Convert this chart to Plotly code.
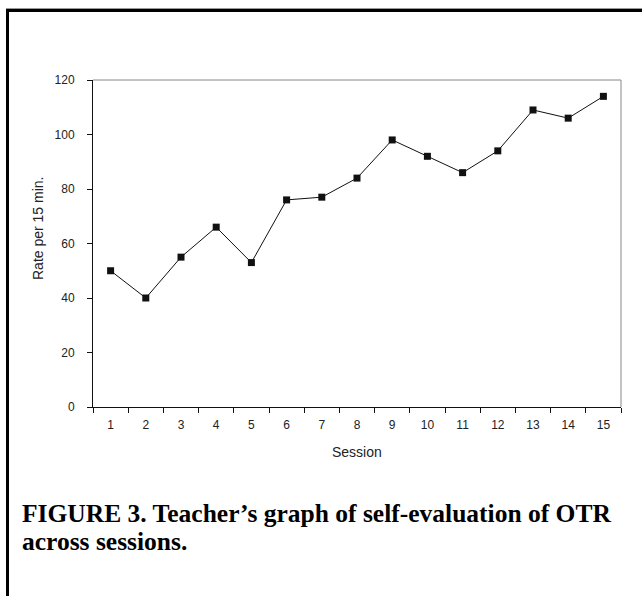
import plotly.graph_objects as go

sessions = list(range(1, 16))
rates = [50, 40, 55, 66, 53, 76, 77, 84, 98, 92, 86, 94, 109, 106, 114]
y_ticks = [0, 20, 40, 60, 80, 100, 120]

W, H = 642, 596
L, R, T, B = 93, 621, 80, 407
pw, ph = R - L, B - T

def px(x):
    return (x - L) / pw

def py(y):
    return (B - y) / ph

fig = go.Figure()
fig.add_trace(go.Scatter(
    x=sessions, y=rates, mode="lines+markers",
    line=dict(color="#111", width=1),
    marker=dict(symbol="square", size=7, color="#111"),
    showlegend=False, cliponaxis=False, hoverinfo="skip",
))

tick_font = dict(family="Liberation Sans, Arial, sans-serif", size=12, color="#222")
title_font = dict(family="Liberation Sans, Arial, sans-serif", size=14, color="#222")

fig.update_layout(
    width=W, height=H,
    margin=dict(l=L, r=W - R, t=T, b=H - B),
    paper_bgcolor="white", plot_bgcolor="white",
    font=tick_font,
    xaxis=dict(
        range=[0.5, 15.5], tickvals=sessions, ticktext=[str(s) for s in sessions],
        ticks="outside", ticklen=7, tickcolor="rgba(0,0,0,0)",
        minor=dict(tick0=0.5, dtick=1, ticks="outside", ticklen=5, tickcolor="#111", tickwidth=1),
        showline=True, linecolor="#111", linewidth=1, showgrid=False, zeroline=False,
        tickfont=tick_font, fixedrange=True,
    ),
    yaxis=dict(
        range=[0, 120], tickvals=y_ticks,
        ticks="outside", ticklen=5, tickcolor="#111", ticklabelstandoff=10,
        showline=True, linecolor="#111", linewidth=1, showgrid=False, zeroline=False,
        tickfont=tick_font, fixedrange=True,
    ),
)

shapes = [
    dict(type="line", xref="paper", yref="paper", x0=0, x1=1, y0=1, y1=1,
         line=dict(color="#888", width=1)),
    dict(type="line", xref="paper", yref="paper", x0=1, x1=1, y0=0, y1=1,
         line=dict(color="#888", width=1)),
    dict(type="line", xref="paper", yref="paper", x0=px(7.5), x1=px(7.5), y0=py(9), y1=py(700),
         line=dict(color="black", width=3)),
    dict(type="line", xref="paper", yref="paper", x0=px(6), x1=px(700), y0=py(10.5), y1=py(10.5),
         line=dict(color="black", width=3)),
    dict(type="line", xref="paper", yref="paper", x0=px(6), x1=px(700), y0=py(8.5), y1=py(8.5),
         line=dict(color="#999", width=1)),
]
fig.update_layout(shapes=shapes)

fig.add_annotation(text="Rate per 15 min.", textangle=-90,
                   xref="paper", yref="paper", x=px(38), y=py(228), xanchor="center", yanchor="middle",
                   showarrow=False, font=title_font)
fig.add_annotation(text="Session",
                   xref="paper", yref="paper", x=0.5, y=py(452), xanchor="center", yanchor="middle",
                   showarrow=False, font=title_font)

cap_font = dict(family="Liberation Serif, Times New Roman, serif", size=25.5, color="black")
fig.add_annotation(text="<b>FIGURE 3. Teacher’s graph of self-evaluation of OTR</b>",
                   xref="paper", yref="paper", x=px(20), y=py(513), xanchor="left", yanchor="middle",
                   showarrow=False, font=cap_font)
fig.add_annotation(text="<b>across sessions.</b>",
                   xref="paper", yref="paper", x=px(20), y=py(541), xanchor="left", yanchor="middle",
                   showarrow=False, font=cap_font)

fig.write_html("out.html", config={"displayModeBar": False},
               post_script="document.body.style.margin='0px';")
